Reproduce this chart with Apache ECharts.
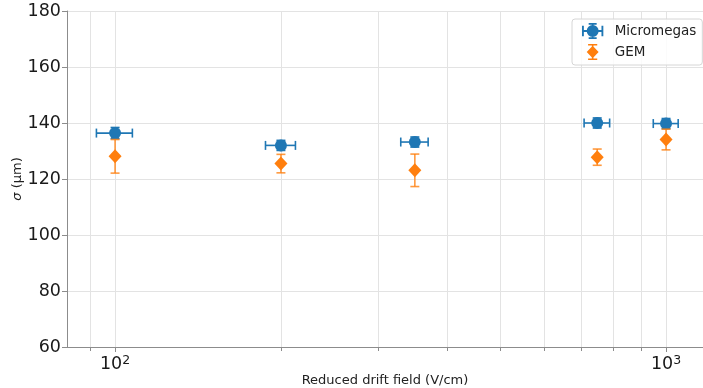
<!DOCTYPE html>
<html>
<head>
<meta charset="utf-8">
<script src="https://cdn.jsdelivr.net/npm/echarts@6/dist/echarts.min.js"></script>
<style>
  html, body { margin: 0; padding: 0; background: #fff; }
  #chart { width: 703px; height: 388px; }
</style>
</head>
<body>
<div id="chart"></div>
<script>
// Drift fields (V/cm) at which the resolution was measured
const fields = [100, 200, 350, 750, 1000];

// Micromegas: resolution (µm), its error and the field uncertainty
const mmSigma = [136.4, 132.0, 133.2, 140.0, 139.8];
const mmSigmaErr = [2.0, 1.8, 1.8, 1.8, 1.8];
const mmFieldErr = [7.5, 12.5, 20, 40, 52];

// GEM: resolution (µm) and its error
const gemSigma = [128.1, 125.5, 123.1, 127.8, 134.1];
const gemSigmaErr = [6.0, 3.3, 5.8, 2.9, 3.7];

// Log-axis grid positions (majors at decades, minors in between)
const majorFields = [100, 1000];
const minorFields = [90, 200, 300, 400, 500, 600, 700, 800, 900];

const FONT = 'DejaVu Sans';
const BLUE = '#1f77b4';
const ORANGE = '#ff7f0e';
const GRID = '#e3e3e3';
const SPINE = '#8c8c8c';

const X_MIN = 81.8, X_MAX = 1167;
const Y_MIN = 60, Y_MAX = 180;

const chart = echarts.init(document.getElementById('chart'), null, { renderer: 'canvas' });

// Vertical grid lines plus the tick marks below the x axis line
function renderLogGrid(params, api) {
  const v = api.value(0);
  const isMajor = api.value(1) === 1;
  const top = api.coord([v, Y_MAX]);
  const bot = api.coord([v, Y_MIN]);
  const x = Math.round(top[0]) + 0.5;
  return {
    type: 'group',
    children: [
      { type: 'line', shape: { x1: x, y1: top[1], x2: x, y2: bot[1] },
        style: { stroke: GRID, lineWidth: 1 } },
      { type: 'line', shape: { x1: x, y1: bot[1], x2: x, y2: bot[1] + (isMajor ? 5 : 4) },
        style: { stroke: SPINE, lineWidth: 1 } }
    ]
  };
}

// Error bars with caps, in data coordinates
function makeErrRenderer(color, opacity) {
  const cap = 4.5;
  return function (params, api) {
    const x = api.value(0), y = api.value(1);
    const xe = api.value(2), ye = api.value(3);
    const style = { stroke: color, lineWidth: 1.6, opacity: opacity };
    const children = [];
    if (ye > 0) {
      const a = api.coord([x, y - ye]);
      const b = api.coord([x, y + ye]);
      children.push({ type: 'line', shape: { x1: a[0], y1: a[1], x2: b[0], y2: b[1] }, style });
      children.push({ type: 'line', shape: { x1: a[0] - cap, y1: a[1], x2: a[0] + cap, y2: a[1] }, style });
      children.push({ type: 'line', shape: { x1: b[0] - cap, y1: b[1], x2: b[0] + cap, y2: b[1] }, style });
    }
    if (xe > 0) {
      const l = api.coord([x - xe, y]);
      const r = api.coord([x + xe, y]);
      children.push({ type: 'line', shape: { x1: l[0], y1: l[1], x2: r[0], y2: r[1] }, style });
      children.push({ type: 'line', shape: { x1: l[0], y1: l[1] - cap, x2: l[0], y2: l[1] + cap }, style });
      children.push({ type: 'line', shape: { x1: r[0], y1: r[1] - cap, x2: r[0], y2: r[1] + cap }, style });
    }
    return { type: 'group', children };
  };
}

const gridData = majorFields.map(v => [v, 1]).concat(minorFields.map(v => [v, 0]));
const mmErrData = fields.map((f, i) => [f, mmSigma[i], mmFieldErr[i], mmSigmaErr[i]]);
const gemErrData = fields.map((f, i) => [f, gemSigma[i], 0, gemSigmaErr[i]]);

// Legend glyphs: marker with its error bars
const mmIcon = 'path://' +
  'M0,5.3H16V6.7H0Z' +
  'M0,2H1.4V10H0Z' +
  'M14.6,2H16V10H14.6Z' +
  'M7.3,0H8.7V12H7.3Z' +
  'M5,0H11V1.3H5Z' +
  'M5,10.7H11V12H5Z' +
  'M3.5,6A4.5,4.5 0 1,1 12.5,6A4.5,4.5 0 1,1 3.5,6Z';
const gemIcon = 'path://' +
  'M7.3,0H8.7V14H7.3Z' +
  'M4,0H12V1.3H4Z' +
  'M4,12.7H12V14H4Z' +
  'M8,1.5L13.2,7L8,12.5L2.8,7Z';

const option = {
  animation: false,
  backgroundColor: '#fff',
  textStyle: { fontFamily: FONT },
  grid: { left: 67, right: 0, top: 11, bottom: 41, containLabel: false, outerBoundsMode: 'none' },
  legend: {
    orient: 'vertical',
    left: 572,
    top: 19,
    padding: [4, 6, 5, 10],
    itemGap: 5,
    itemWidth: 34,
    itemHeight: 16,
    symbolKeepAspect: true,
    borderColor: '#d6d6d6',
    borderWidth: 1,
    borderRadius: 3,
    backgroundColor: 'rgba(255,255,255,0.85)',
    textStyle: { fontFamily: FONT, fontSize: 13.5, color: '#222' },
    data: [
      { name: 'Micromegas', icon: mmIcon, itemStyle: { color: BLUE } },
      { name: 'GEM', icon: gemIcon, itemStyle: { color: ORANGE } }
    ]
  },
  xAxis: {
    type: 'log',
    logBase: 10,
    min: X_MIN,
    max: X_MAX,
    name: 'Reduced drift field (V/cm)',
    nameLocation: 'middle',
    nameGap: 27,
    nameMoveOverlap: false,
    nameTextStyle: { fontFamily: FONT, fontSize: 13, color: '#222' },
    axisLine: { show: true, lineStyle: { color: SPINE, width: 1 } },
    axisTick: { show: false },
    splitLine: { show: false },
    axisLabel: {
      margin: 7,
      showMinLabel: false,
      showMaxLabel: false,
      formatter: function (v) {
        const e = Math.log10(v);
        if (Math.abs(e - Math.round(e)) > 1e-6) return '';
        return '{b|10}{s|' + Math.round(e) + '}';
      },
      rich: {
        b: { fontFamily: FONT, fontSize: 17.5, color: '#1a1a1a', lineHeight: 20 },
        s: { fontFamily: FONT, fontSize: 12.5, color: '#1a1a1a', lineHeight: 12, verticalAlign: 'top' }
      }
    }
  },
  yAxis: {
    type: 'value',
    min: Y_MIN,
    max: Y_MAX,
    interval: 20,
    name: '{i|σ} (μm)',
    nameLocation: 'middle',
    nameGap: 43,
    nameMoveOverlap: false,
    nameTextStyle: {
      fontFamily: FONT, fontSize: 13, color: '#222',
      rich: { i: { fontFamily: FONT, fontSize: 13, fontStyle: 'italic', color: '#222' } }
    },
    axisLine: { show: true, lineStyle: { color: SPINE, width: 1 } },
    axisTick: { show: true, length: 5, lineStyle: { color: SPINE } },
    axisLabel: { margin: 6, fontFamily: FONT, fontSize: 17.5, color: '#1a1a1a' },
    splitLine: { show: true, lineStyle: { color: GRID, width: 1 } }
  },
  series: [
    {
      name: 'log grid',
      type: 'custom',
      renderItem: renderLogGrid,
      data: gridData,
      encode: { x: 0 },
      silent: true,
      z: 1
    },
    {
      name: 'Micromegas errors',
      type: 'custom',
      renderItem: makeErrRenderer(BLUE, 1),
      data: mmErrData,
      encode: { x: 0, y: 1 },
      z: 2
    },
    {
      name: 'Micromegas',
      type: 'scatter',
      symbol: 'circle',
      symbolSize: 12,
      itemStyle: { color: BLUE, opacity: 1 },
      data: fields.map((f, i) => [f, mmSigma[i]]),
      z: 3
    },
    {
      name: 'GEM errors',
      type: 'custom',
      renderItem: makeErrRenderer(ORANGE, 0.8),
      data: gemErrData,
      encode: { x: 0, y: 1 },
      z: 4
    },
    {
      name: 'GEM',
      type: 'scatter',
      symbol: 'diamond',
      symbolSize: [13, 14],
      itemStyle: { color: ORANGE, opacity: 1 },
      data: fields.map((f, i) => [f, gemSigma[i]]),
      z: 5
    }
  ]
};

chart.setOption(option);
</script>
</body>
</html>
